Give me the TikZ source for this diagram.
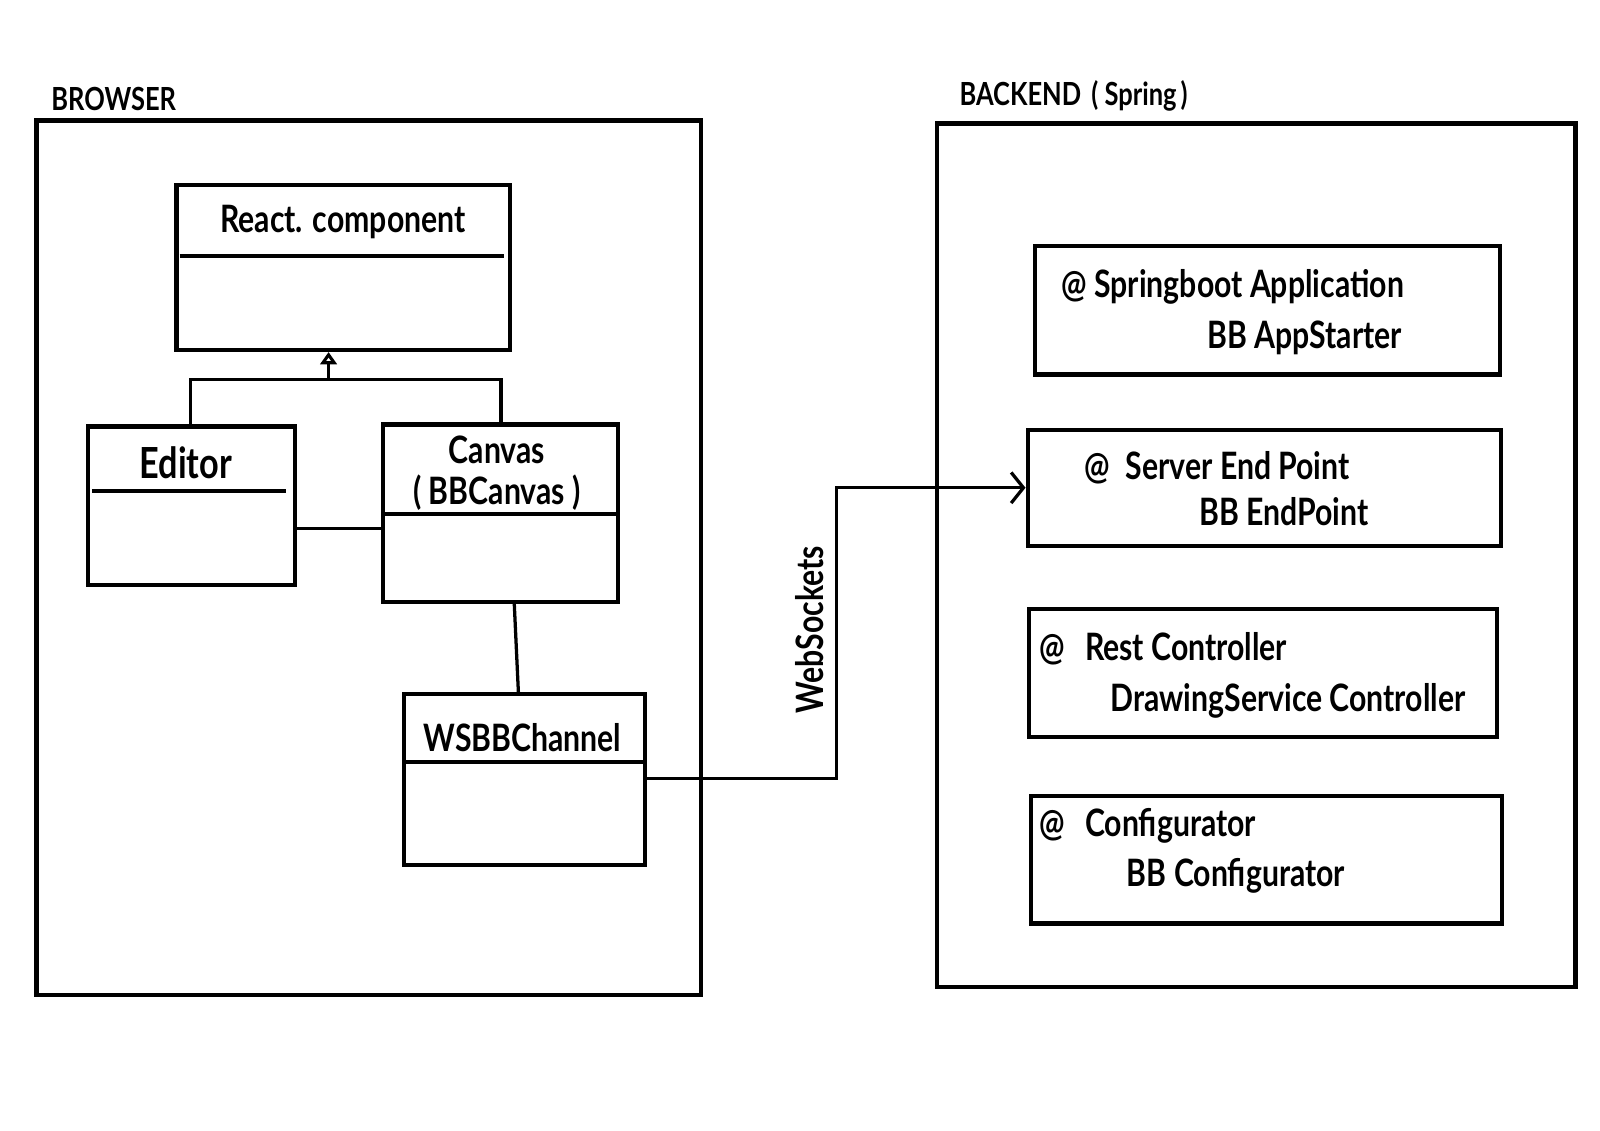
\documentclass[tikz,border=0pt]{standalone}
\usepackage{fontspec}
\setmainfont{Lato}[FakeStretch=0.8]
\usetikzlibrary{fit,arrows.meta}
\tikzset{
  box/.style={draw, line width=2pt, inner sep=0pt},
  frame/.style={draw, line width=2.2pt, inner sep=0pt},
  divider/.style={line width=2pt},
  conn/.style={line width=1.6pt},
  txt/.style={inner sep=0pt, font=\bfseries\fontsize{18.5}{20}\selectfont},
  bigtxt/.style={inner sep=0pt, font=\bfseries\fontsize{21}{22}\selectfont},
  lbl/.style={inner sep=0pt, font=\bfseries\fontsize{15.6}{17}\selectfont},
}
\begin{document}
\begin{tikzpicture}[x=0.5pt,y=-0.5pt]
\useasboundingbox[fill=white] (0,0) rectangle (1568,1108);
% containers
\node[frame, fit={(36,118) (687,975)}] (browser) {};
\node[lbl, anchor=west] (browserlbl) at (50,97) {BROWSER};
\node[frame, fit={(918,121) (1544,967)}] (backend) {};
\node[lbl, anchor=west] (backendlbl) at (940,94) {BACKEND\hspace{5pt}(\hspace{3pt}Spring\hspace{2pt})};
% UML classes
\node[box, fit={(173,181) (500,343)}] (react) {};
\draw[divider] (176,251) -- (494,251);
\node[txt] (reacttxt) at (336,218) {React. component};
\node[box, fit={(86,418) (289,573)}] (editor) {};
\draw[divider] (90,481) -- (280,481);
\node[bigtxt] (editortxt) at (182,453) {Editor};
\node[box, fit={(375,416) (606,590)}] (canvas) {};
\draw[divider] (375,504) -- (606,504);
\node[txt] (canvastxt) at (487,441) {Canvas};
\node[txt] (canvastxt2) at (487,483) {( BBCanvas )};
\node[box, fit={(396,680) (632,848)}] (ws) {};
\draw[divider] (396,747) -- (632,747);
\node[txt] (wstxt) at (512,723) {WSBBChannel};
% backend components
\node[box, fit={(1014,241) (1470,367)}] (app) {};
\node[txt, anchor=west] (apptxt) at (1040,281) {@ Springboot Application};
\node[txt, anchor=west] (apptxt2) at (1183,331) {BB AppStarter};
\node[box, fit={(1007,421) (1471,535)}] (sep) {};
\node[txt, anchor=west] (septxt) at (1062,458) {@\hspace{8pt}Server End Point};
\node[txt, anchor=west] (septxt2) at (1175,501) {BB EndPoint};
\node[box, fit={(1008,597) (1467,722)}] (rest) {};
\node[txt, anchor=west] (resttxt) at (1018,636) {@\hspace{10pt}Rest Controller};
\node[txt, anchor=west] (resttxt2) at (1088,687) {DrawingService Controller};
\node[box, fit={(1010,780) (1472,905)}] (conf) {};
\node[txt, anchor=west] (conftxt) at (1018,809) {@\hspace{10pt}Configurator};
\node[txt, anchor=west] (conftxt2) at (1104,858) {BB Configurator};
% inheritance
\coordinate (junction) at (322,372);
\draw[conn] (editor.north -| 187,0) |- (junction);
\draw[conn] (canvas.north -| 491,0) |- (junction);
\draw[conn, -{Triangle[open, length=6pt, width=8pt, line width=1.8pt]}] (junction) -- (react.south -| junction);
% associations
\draw[conn] (editor.east |- 0,518) -- (canvas.west |- 0,518);
\draw[conn] (canvas.south -| 504,0) -- (ws.north -| 508,0);
\coordinate (bend) at (820,478);
\draw[conn, -{Straight Barb[length=6pt, width=15pt, line width=1.6pt]}] (ws.east |- 0,763) -| (bend) -- (sep.west |- bend);
\node[txt, rotate=90] (wslbl) at (793,617) {WebSockets};
\end{tikzpicture}
\end{document}
